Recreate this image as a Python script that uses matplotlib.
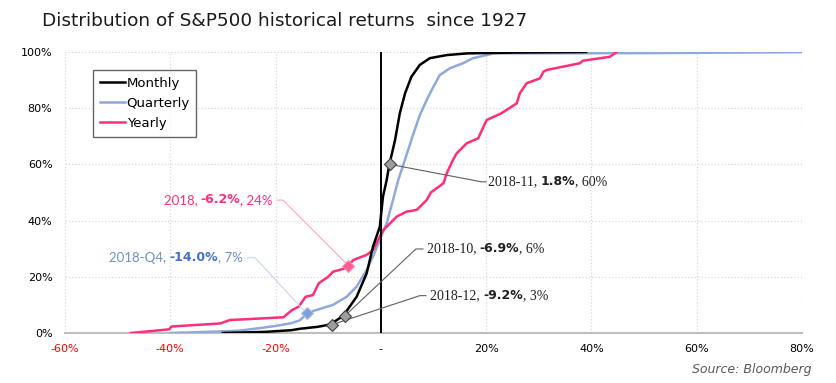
import matplotlib
matplotlib.use("Agg")
import matplotlib.pyplot as plt

# CDF curves: return (%) vs cumulative share (%)
monthly_ret = [-30, -22, -17, -15.4, -12, -9.7, -7.2, -4.6, -2.7, -1.5, -0.2, 0.4, 1.1, 1.6,
               2.7, 3.6, 4.6, 5.8, 7.4, 9.3, 12.5, 16.3, 25, 39]
monthly_cdf = [0, 0.4, 1.0, 1.5, 2.2, 3.0, 6.0, 12.9, 21.2, 30.7, 37.8, 48.5, 54.4, 59.8,
               68.7, 78.2, 85.3, 91.2, 95.4, 97.8, 98.9, 99.5, 99.8, 100]

quarterly_ret = [-40, -33, -27, -24, -20, -17, -15.4, -14.0, -12.9, -9.1, -6.5, -4.6, -2.7, -1.5,
                 -0.2, 1.1, 2.3, 3.3, 4.9, 6.2, 7.4, 8.7, 10.0, 11.2, 13.1, 15.6, 17.5, 20.1,
                 21.3, 50, 85]
quarterly_cdf = [0, 0.4, 0.8, 1.5, 2.5, 3.5, 4.5, 7.0, 7.8, 10.0, 12.9, 16.5, 22.4, 27.2,
                 33.1, 39.0, 47.3, 54.4, 63.5, 71.0, 77.5, 82.9, 87.7, 91.8, 94.2, 96.0, 97.8, 98.9,
                 99.5, 99.6, 100]

yearly_ret = [-47.5, -40.2, -39.8, -30.5, -28.7, -18.5, -17.0, -15.6, -14.3, -12.9, -11.8, -10.0,
              -9.1, -6.8, -6.2, -5.2, -2.7, -1.5, -0.3, 0.4, 1.1, 3.0, 4.9, 6.8, 8.7, 9.5,
              11.9, 12.5, 13.7, 14.4, 16.3, 18.5, 19.5, 20.1, 22.9, 25.8, 26.4, 27.7, 30.2,
              30.9, 31.5, 37.8, 38.4, 43.5, 44.8]
yearly_cdf = [0, 1.3, 2.3, 3.4, 4.6, 5.6, 8.0, 9.4, 12.9, 13.5, 17.7, 20.0,
              21.8, 23.0, 24.0, 26.0, 27.8, 29.5, 34.0, 36.5, 37.8, 41.4, 43.2, 43.8, 47.3, 50.0,
              53.3, 56.8, 61.6, 63.9, 67.5, 69.3, 73.4, 75.8, 78.2, 81.7, 85.3, 88.9, 90.6,
              93.0, 93.6, 96.0, 96.9, 98.3, 100]

# highlighted 2018 observations: (return %, cumulative %)
pt_2018_11 = (1.8, 60)
pt_2018_10 = (-6.9, 6)
pt_2018_12 = (-9.2, 3)
pt_2018_y = (-6.2, 24)
pt_2018_q4 = (-14.0, 7)

x_ticks = [-60, -40, -20, 0, 20, 40, 60, 80]
x_labels = ["-60%", "-40%", "-20%", "-", "20%", "40%", "60%", "80%"]
y_ticks = [0, 20, 40, 60, 80, 100]
y_labels = ["0%", "20%", "40%", "60%", "80%", "100%"]

PINK = "#FF2D7A"
BLUE = "#8EA9DB"
BLUE_TXT = "#4472C4"

fig = plt.figure(figsize=(8.37, 3.83), dpi=100)
ax = fig.add_axes([65 / 837, 50 / 383, 737 / 837, 281 / 383])

ax.plot(monthly_ret, monthly_cdf, color="black", lw=1.8, label="Monthly", zorder=4)
ax.plot(quarterly_ret, quarterly_cdf, color=BLUE, lw=1.8, label="Quarterly", zorder=3)
ax.plot(yearly_ret, yearly_cdf, color=PINK, lw=1.8, label="Yearly", zorder=3)
ax.axvline(0, color="black", lw=1.4, zorder=5)

ax.set_xlim(-60, 80)
ax.set_ylim(0, 100)
ax.set_xticks(x_ticks)
ax.set_xticklabels(x_labels)
ax.set_yticks(y_ticks)
ax.set_yticklabels(y_labels)
for lab, v in zip(ax.get_xticklabels(), x_ticks):
    lab.set_color("#FF0000" if v < 0 else "black")
ax.tick_params(length=0, labelsize=8, pad=8)
ax.tick_params(axis="y", pad=9)
ax.grid(True, color="#D9D9D9", ls=":", lw=0.9)
for s in ["top", "right", "left"]:
    ax.spines[s].set_visible(False)
ax.spines["bottom"].set_color("#BFBFBF")
ax.spines["bottom"].set_linewidth(1.5)

leg = ax.legend(loc="upper left", bbox_to_anchor=(0.038, 0.936), fontsize=9.5,
                fancybox=False, edgecolor="#404040", handlelength=1.9,
                handletextpad=0.15, labelspacing=0.55, borderpad=0.5,
                borderaxespad=0)
leg.get_frame().set_linewidth(1.0)


def chain_left(x, y, parts):
    t = ax.text(x, y, parts[0][0], va="bottom", ha="left", zorder=6, **parts[0][1])
    for s, kw in parts[1:]:
        t = ax.annotate(s, xy=(1, 0), xycoords=t, va="bottom", ha="left", **kw)


def chain_right(x, y, parts):
    t = ax.text(x, y, parts[-1][0], va="bottom", ha="right", zorder=6, **parts[-1][1])
    for s, kw in reversed(parts[:-1]):
        t = ax.annotate(s, xy=(0, 0), xycoords=t, va="bottom", ha="right", **kw)


serif = dict(family="Liberation Serif", fontsize=10, color="#202020")
bold = dict(family="DejaVu Sans", fontsize=9, fontweight="bold", color="#202020")

# grey markers for monthly points
for p in [pt_2018_11, pt_2018_10, pt_2018_12]:
    ax.plot(*p, marker="D", ms=6, mfc="#9E9E9E", mec="#404040", mew=0.8, zorder=7)

ax.plot([pt_2018_11[0], 19.1, 20.0], [pt_2018_11[1], 53.8, 53.8], color="#606060", lw=0.8, zorder=6)
chain_left(20.3, 51.6, [("2018-11, ", serif), ("1.8%", bold), (", 60%", serif)])

ax.plot([pt_2018_10[0], 6.65, 8.0], [pt_2018_10[1], 29.9, 29.9], color="#606060", lw=0.8, zorder=6)
chain_left(8.7, 27.7, [("2018-10, ", serif), ("-6.9%", bold), (", 6%", serif)])

ax.plot([pt_2018_12[0], 7.4, 8.55], [pt_2018_12[1], 13.3, 13.3], color="#606060", lw=0.8, zorder=6)
chain_left(9.4, 11.0, [("2018-12, ", serif), ("-9.2%", bold), (", 3%", serif)])

# yearly 2018
ax.plot(*pt_2018_y, marker="D", ms=6, mfc="#FF5C93", mec="#FF8FB5", mew=0.8, zorder=7)
ax.plot([-19.6, -18.6, pt_2018_y[0]], [47.3, 47.3, pt_2018_y[1]], color="#FFA5BE", lw=0.8, zorder=6)
psans = dict(family="Lato", fontsize=9.5, color=PINK)
pbold = dict(family="DejaVu Sans", fontsize=9, fontweight="bold", color=PINK)
chain_right(-20.5, 45.2, [("2018, ", psans), ("-6.2%", pbold), (", 24%", psans)])

# quarterly 2018-Q4
ax.plot(*pt_2018_q4, marker="D", ms=6, mfc="#7F9FDB", mec="#A9BFE8", mew=0.8, zorder=7)
ax.plot([-25.3, -23.9, -15.3, pt_2018_q4[0]], [26.8, 26.8, 9.4, pt_2018_q4[1]],
        color="#C9D6F0", lw=0.8, zorder=6)
bsans = dict(family="Lato", fontsize=9.5, color="#6F8FD0")
bbold = dict(family="DejaVu Sans", fontsize=9, fontweight="bold", color=BLUE_TXT)
chain_right(-26.2, 24.7, [("2018-Q4, ", bsans), ("-14.0%", bbold), (", 7%", bsans)])

fig.text(42 / 837, 1 - 21 / 383, "Distribution of S&P500 historical returns  since 1927",
         fontsize=13.3, color="#1A1A1A", va="center", ha="left")
fig.text(812 / 837, 1 - 370 / 383, "Source: Bloomberg", fontsize=9, style="italic",
         color="#595959", va="center", ha="right")

fig.savefig("out.png", dpi=100)
